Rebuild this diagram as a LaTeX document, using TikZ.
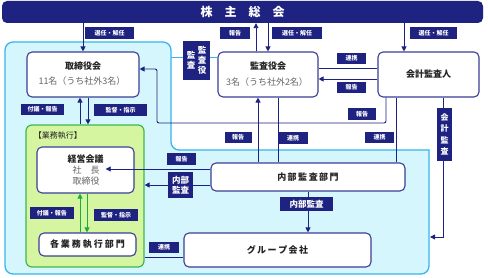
\documentclass[tikz,border=0pt]{standalone}
\usepackage{fontspec}
\setmainfont{Noto Sans CJK JP}
\usetikzlibrary{arrows.meta}
\definecolor{navy}{RGB}{30,34,128}
\definecolor{boxline}{RGB}{58,62,150}
\definecolor{skyfill}{RGB}{214,246,253}
\definecolor{skyline}{RGB}{56,182,236}
\definecolor{gfill}{RGB}{214,245,160}
\definecolor{gline}{RGB}{60,184,80}
\definecolor{garrow}{RGB}{30,170,70}
\definecolor{txtgray}{RGB}{100,100,100}
\definecolor{txt}{RGB}{34,34,34}
\begin{document}
\begin{tikzpicture}[x=1pt,y=-1pt,
  box/.style={draw=boxline, line width=1.1pt, fill=white, rounded corners=5pt, inner sep=0pt},
  btxt/.style={inner sep=0pt, text=txt, font=\fontsize{9}{10}\selectfont\bfseries},
  gtxt/.style={inner sep=0pt, text=txtgray, font=\fontsize{9}{10}\selectfont},
  lbl/.style={fill=navy, text=white, inner sep=0pt, font=\fontsize{6}{7}\selectfont\bfseries, minimum height=11.5pt},
  biglbl/.style={fill=navy, text=white, inner sep=0pt, align=center, font=\fontsize{8.5}{10.5}\selectfont\bfseries},
  conn/.style={draw=navy, line width=0.9pt},
  arr/.style={conn, -{Triangle[length=5pt,width=5pt]}},
  garr/.style={draw=garrow, line width=1pt, -{Triangle[length=5pt,width=5pt]}},
]
\useasboundingbox (0,0) rectangle (488,278);

% light blue region
\path[fill=skyfill, draw=skyline, line width=1.3pt]
  (5,150) [rounded corners=8pt] |- (171,42) -- (171,150) [sharp corners] -- (429,150) [rounded corners=8pt] |- (5,274) -- cycle;
\coordinate (regN) at (171,58);
\coordinate (regE) at (430,237);
\coordinate (c1) at (157,123);

% green region
\node[draw=gline, fill=gfill, line width=1.2pt, rounded corners=6pt, minimum width=118pt, minimum height=142pt] (gyomu) at (85,196) {};
\node[inner sep=0pt, text=txt, font=\fontsize{8}{9}\selectfont] (gyomuT) at (58,135.5) {【業務執行】};

% banner
\node[fill=navy, rounded corners=5pt, minimum width=481pt, minimum height=22pt, text=white, font=\fontsize{12}{12}\selectfont\bfseries] (banner) at (242.5,12) {株\hspace{12pt}主\hspace{12pt}総\hspace{12pt}会};

% boxes
\node[box, minimum width=112pt, minimum height=45pt] (tori) at (83,74.5) {};
\node[btxt] (toriT) at (83,66) {取締役会};
\node[gtxt] (toriN) at (82,81.5) {11名（うち社外3名）};

\node[box, minimum width=100pt, minimum height=45pt] (kansa) at (268,74.5) {};
\node[btxt] (kansaT) at (268,66) {監査役会};
\node[gtxt] (kansaN) at (267,82) {3名（うち社外2名）};

\node[box, minimum width=101pt, minimum height=45pt, btxt] (kaikei) at (428.5,74.5) {会計監査人};

\node[box, minimum width=97pt, minimum height=46pt] (keiei) at (85.5,170) {};
\node[btxt] (keieiT) at (85.5,159) {経営会議};
\node[gtxt] (shacho) at (86,170) {社　長};
\node[gtxt] (torishimariyaku) at (86,181) {取締役};

\node[box, minimum width=97pt, minimum height=23pt, btxt] (kaku) at (87.5,244.5) {各\hspace{2pt}業\hspace{2pt}務\hspace{2pt}執\hspace{2pt}行\hspace{2pt}部\hspace{2pt}門};

\node[box, minimum width=194pt, minimum height=28pt, btxt] (naibu) at (308,177) {内\hspace{1.5pt}部\hspace{1.5pt}監\hspace{1.5pt}査\hspace{1.5pt}部\hspace{1.5pt}門};

\node[box, minimum width=187pt, minimum height=34pt, btxt] (group) at (277.5,250) {グ\hspace{1.5pt}ル\hspace{1.5pt}ー\hspace{1.5pt}プ\hspace{1.5pt}会\hspace{1.5pt}社};

% connectors
\draw[arr] (banner.south -| tori.north) -- (tori.north);
\draw[arr] ([xshift=-12pt]kansa.north) -- ([xshift=-12pt]kansa.north |- banner.south);
\draw[arr] (banner.south -| kansa.north) -- (kansa.north);
\draw[arr] ([xshift=-24.5pt]kaikei.north |- banner.south) -- ([xshift=-24.5pt]kaikei.north);

\draw[conn] ([yshift=6.5pt]kaikei.west) -- ([yshift=6.5pt]kaikei.west -| kansa.east);
\draw[arr] ([yshift=-4.5pt]kaikei.west) -- ([yshift=-4.5pt]kaikei.west -| kansa.east);

\draw[arr, rounded corners=2pt] ([xshift=-42.5pt]kaikei.south) |- (c1) |- ([yshift=5.5pt]tori.east);

\draw[arr] ([xshift=-10pt]kansa.south |- naibu.north) -- ([xshift=-10pt]kansa.south);
\draw[conn] ([xshift=10pt]kansa.south) -- ([xshift=10pt]kansa.south |- naibu.north);
\draw[conn] ([xshift=-32.5pt]kaikei.south) -- ([xshift=-32.5pt]kaikei.south |- naibu.north);
\draw[arr] ([xshift=15pt]kaikei.south) |- (regE);

\draw[draw=skyline, line width=1pt] (regN) -- (regN -| kansa.west);

\draw[arr] ([xshift=-3pt]tori.south |- gyomu.north) -- ([xshift=-3pt]tori.south);
\draw[arr] ([xshift=5pt]tori.south) -- ([xshift=5pt]tori.south |- gyomu.north);

\draw[garr] ([xshift=-5.5pt]keiei.south |- kaku.north) -- ([xshift=-5.5pt]keiei.south);
\draw[garr] ([xshift=1.5pt]keiei.south) -- ([xshift=1.5pt]keiei.south |- kaku.north);

\draw[arr] ([yshift=8pt]naibu.west) -- ([yshift=8pt,xshift=6pt]naibu.west -| shacho.east);
\draw[arr] ([yshift=-8pt]naibu.west) -- ([yshift=-8pt]naibu.west -| gyomu.east);
\draw[arr] (naibu.south) -- (naibu.south |- group.north);
\draw[conn] ([yshift=-7pt]group.west) -- ([yshift=-7pt]group.west -| gyomu.east);

% labels
\node[lbl, minimum width=49pt] (l1) at (109.5,33) {選任・解任};
\node[lbl, minimum width=30pt] (l2) at (235,33) {報告};
\node[lbl, minimum width=50pt] (l3) at (297,33) {選任・解任};
\node[lbl, minimum width=47pt] (l4) at (433.5,33) {選任・解任};
\node[biglbl, minimum width=27pt, minimum height=39pt, font=\fontsize{8.5}{9.8}\selectfont\bfseries] (l5) at (196.5,60.5)
  {\parbox[c]{9pt}{\centering 監\\査}\hspace{2pt}\parbox[c]{9pt}{\centering 監\\査\\役}};
\node[lbl, minimum width=29pt] (l6) at (351.5,58.5) {連携};
\node[lbl, minimum width=29pt] (l7) at (351.5,87.5) {報告};
\node[lbl, minimum width=28pt] (l8) at (362,114) {報告};
\node[lbl, minimum width=43pt] (l9) at (42.5,109.5) {付議・報告};
\node[lbl, minimum width=53pt] (l10) at (120.5,110) {監督・指示};
\node[lbl, minimum width=27pt] (l11) at (238,137.5) {報告};
\node[lbl, minimum width=29pt] (l12) at (293,138) {連携};
\node[lbl, minimum width=29pt] (l13) at (379.5,137.5) {連携};
\node[biglbl, minimum width=15pt, minimum height=53pt, font=\fontsize{8}{11.5}\selectfont\bfseries] (l14) at (444.5,134.5) {会\\計\\監\\査};
\node[lbl, minimum width=29pt] (l15) at (181.5,159) {報告};
\node[biglbl, minimum width=25pt, minimum height=26pt] (l16) at (180.5,185) {内部\\監査};
\node[biglbl, minimum width=53pt, minimum height=14pt] (l17) at (306.5,204) {内部監査};
\node[lbl, minimum width=44pt] (l18) at (52,213) {付議・報告};
\node[lbl, minimum width=44pt] (l19) at (116,215) {監督・指示};
\node[lbl, minimum width=30pt] (l20) at (164,247.5) {連携};
\end{tikzpicture}
\end{document}
